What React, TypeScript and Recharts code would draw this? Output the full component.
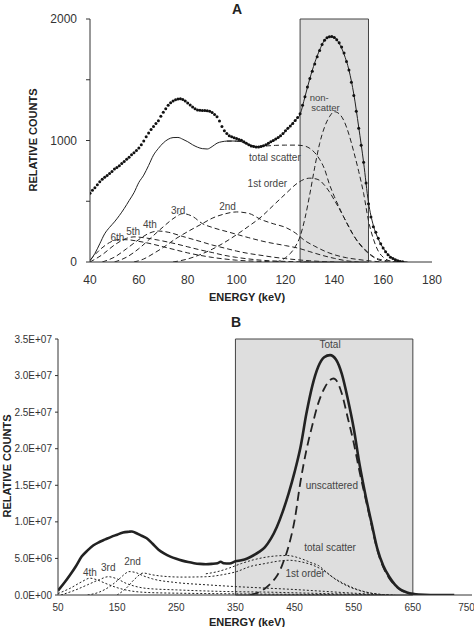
import React from 'react';
import { LineChart, Line, XAxis, YAxis, ReferenceArea, ReferenceDot } from 'recharts';

// ---------- panel A: energy (keV) vs relative counts ----------
const measuredEnergyA = [
  40, 41, 42, 43, 44, 45, 46, 47, 48, 49, 50, 51, 52, 53, 54, 55, 56, 57, 58, 59,
  60, 61, 62, 63, 64, 65, 66, 67, 68, 69, 70, 71, 72, 73, 74, 75, 76, 77, 78, 79,
  80, 81, 82, 83, 84, 85, 86, 87, 88, 89, 90, 91, 92, 93, 94, 95, 96, 97, 98, 99,
  100, 101, 102, 103, 104, 105, 106, 107, 108, 109, 110, 111, 112, 113, 114, 115, 116, 117, 118, 119,
  120, 121, 122, 123, 124, 125, 126, 127, 128, 129, 130, 131, 132, 133, 134, 135, 136, 137, 138, 139,
  140, 141, 142, 143, 144, 145, 146, 147, 148, 149, 150, 151, 152, 153, 154, 155, 156, 157, 158, 159,
  160, 161, 162, 163, 164, 165, 166, 167, 168,
];
const measuredCountsA = [
  565, 590, 612, 635, 660, 682, 698, 712, 728, 745, 765, 778, 792, 810, 828, 845, 862, 882, 900, 918,
  938, 965, 995, 1030, 1062, 1090, 1115, 1140, 1162, 1200, 1232, 1262, 1290, 1310, 1325, 1335, 1342, 1343, 1338, 1325,
  1308, 1292, 1275, 1262, 1252, 1248, 1247, 1246, 1244, 1240, 1230, 1215, 1195, 1160, 1115, 1080, 1058, 1040, 1030, 1022,
  1016, 1008, 1002, 990, 978, 965, 955, 950, 946, 946, 950, 957, 966, 977, 990, 1000, 1012, 1025, 1040, 1058,
  1080, 1100, 1120, 1140, 1165, 1190, 1220, 1290, 1360, 1440, 1510, 1570, 1630, 1690, 1740, 1790, 1825, 1845, 1854, 1855,
  1848, 1830, 1805, 1770, 1720, 1650, 1580, 1480, 1370, 1240, 1100, 960, 820, 650, 480, 370, 290, 245, 195, 150,
  115, 85, 60, 40, 28, 18, 10, 5, 2,
];

const totalEnergyA = [
  40, 42, 44, 46, 48, 50, 52, 54, 56, 58, 60, 62, 64, 66, 68, 70, 72, 74, 76, 78,
  80, 82, 84, 86, 88, 90, 92, 94, 96, 98, 100, 102, 104, 106, 108, 110, 112, 114, 116, 118,
  120, 122, 124, 126, 128, 130, 132, 134, 136, 138, 140, 142, 144, 146, 148, 150, 152, 154, 156, 158,
  160, 162, 164, 166, 168, 170,
];
const totalCountsA = [
  10, 70, 150, 232, 285, 330, 382, 440, 505, 570, 655, 715, 795, 880, 935, 980, 1010, 1024, 1025, 1010,
  990, 965, 945, 933, 930, 950, 978, 990, 995, 996, 995, 990, 975, 960, 950, 952, 962, 985, 1008, 1035,
  1075, 1120, 1165, 1215, 1360, 1510, 1640, 1745, 1825, 1855, 1850, 1800, 1710, 1580, 1380, 1110, 820, 490, 300, 190,
  115, 62, 30, 12, 3, 0,
];

const scatterEnergyA = [96, 100, 104, 108, 112, 116, 120, 124, 127, 130, 132, 134, 136, 138, 140, 142, 144, 146, 148, 150, 152, 154, 156, 158, 160, 163, 166];
const scatterCountsA = [995, 995, 975, 950, 955, 960, 962, 962, 958, 935, 900, 845, 765, 640, 540, 450, 365, 285, 215, 160, 115, 75, 45, 25, 16, 5, 0];

const nonScatterEnergyA = [116, 118, 120, 122, 124, 126, 128, 130, 132, 134, 136, 138, 140, 142, 144, 146, 148, 150, 152, 154, 156, 158, 160, 162, 164, 166];
const nonScatterCountsA = [0, 12, 35, 70, 125, 210, 360, 560, 780, 975, 1110, 1195, 1237, 1220, 1160, 1050, 905, 745, 565, 340, 190, 90, 40, 14, 4, 0];

const firstEnergyA = [74, 80, 85, 90, 95, 100, 105, 110, 115, 120, 125, 128, 130, 132, 134, 136, 138, 140, 142, 144, 146, 148, 150, 152, 154, 156, 158, 160, 162];
const firstCountsA = [0, 25, 60, 105, 160, 225, 295, 370, 465, 560, 650, 683, 690, 686, 672, 632, 578, 510, 440, 365, 290, 215, 155, 108, 70, 40, 18, 6, 0];

const secondEnergyA = [58, 62, 66, 70, 75, 80, 86, 90, 95, 100, 105, 110, 115, 120, 124, 128, 132, 136, 140, 145, 150, 155, 160];
const secondCountsA = [0, 25, 70, 120, 190, 250, 316, 360, 395, 412, 400, 350, 315, 285, 240, 175, 130, 90, 60, 35, 20, 8, 0];

const thirdEnergyA = [50, 55, 60, 65, 70, 75, 78, 82, 86, 90, 97, 105, 112, 120, 125, 130, 135, 140, 145, 150];
const thirdCountsA = [0, 40, 110, 200, 290, 370, 398, 375, 316, 285, 245, 200, 165, 135, 115, 85, 55, 30, 10, 0];

const fourthEnergyA = [45, 50, 55, 60, 64, 68, 72, 78, 85, 90, 95, 100, 105, 110, 115, 120, 125, 130, 140];
const fourthCountsA = [0, 40, 110, 185, 235, 255, 245, 210, 170, 140, 115, 90, 70, 55, 40, 28, 18, 10, 0];

const fifthEnergyA = [40, 45, 50, 55, 58, 62, 68, 75, 80, 85, 90, 95, 100, 105, 110, 120, 130];
const fifthCountsA = [0, 60, 140, 195, 207, 200, 180, 150, 125, 100, 78, 55, 38, 25, 15, 5, 0];

const sixthEnergyA = [40, 44, 48, 52, 56, 60, 65, 70, 75, 80, 85, 90, 95, 100, 110, 120];
const sixthCountsA = [15, 100, 160, 185, 182, 170, 150, 125, 100, 75, 55, 38, 25, 15, 5, 0];

const xTicksA = [40, 60, 80, 100, 120, 140, 160, 180];
const yTicksA = [0, 500, 1000, 1500, 2000];
const windowA = [126, 154];

// ---------- panel B ----------
const totalEnergyB = [
  50, 60, 70, 80, 90, 100, 110, 120, 130, 140, 150, 160, 170, 175, 180, 190, 200, 210, 220, 230,
  240, 250, 260, 270, 280, 290, 300, 310, 320, 325, 330, 340, 350, 360, 370, 380, 390, 400, 410, 420,
  430, 440, 450, 460, 470, 480, 490, 500, 510, 520, 530, 540, 550, 560, 570, 580, 590, 600, 610, 620,
  630, 640, 650, 660, 680, 720,
];
const totalCountsB = [
  0.6e6, 1.6e6, 2.7e6, 3.9e6, 5.25e6, 6.1e6, 6.8e6, 7.25e6, 7.6e6, 7.95e6, 8.25e6, 8.55e6, 8.65e6, 8.68e6, 8.55e6, 8.15e6, 7.75e6, 7.0e6, 6.2e6, 5.65e6,
  5.25e6, 4.95e6, 4.7e6, 4.5e6, 4.35e6, 4.25e6, 4.2e6, 4.25e6, 4.35e6, 4.55e6, 4.35e6, 4.3e6, 4.6e6, 4.75e6, 5.0e6, 5.4e6, 5.9e6, 6.55e6, 7.7e6, 9.3e6,
  11.4e6, 13.9e6, 16.8e6, 20.2e6, 24.8e6, 28.6e6, 31.2e6, 32.5e6, 32.8e6, 32.2e6, 30.2e6, 26.8e6, 22.8e6, 17.8e6, 13.6e6, 9.9e6, 6.3e6, 4.0e6, 2.5e6, 1.4e6,
  0.7e6, 0.35e6, 0.15e6, 0.05e6, 0, 0,
];

const unscatteredEnergyB = [375, 390, 400, 410, 420, 425, 430, 440, 450, 460, 470, 480, 490, 500, 510, 516, 520, 530, 540, 550, 560, 570, 580, 590, 600, 610, 620, 630, 640, 650, 660];
const unscatteredCountsB = [0, 0.4e6, 0.9e6, 1.6e6, 2.6e6, 3.3e6, 4.3e6, 6.7e6, 10.2e6, 15.5e6, 19.8e6, 23.2e6, 26.2e6, 28.2e6, 29.4e6, 29.6e6, 29.4e6, 27.5e6, 24.2e6, 20.8e6, 16.8e6, 13.2e6, 9.6e6, 6.1e6, 3.8e6, 2.3e6, 1.3e6, 0.65e6, 0.3e6, 0.1e6, 0];

const scatterEnergyB = [300, 320, 340, 360, 380, 400, 420, 437, 460, 480, 490, 500, 510, 520, 530, 540, 560, 570, 580, 600, 610];
const scatterCountsB = [2.9e6, 3.2e6, 3.7e6, 4.3e6, 4.8e6, 5.15e6, 5.35e6, 5.4e6, 5.0e6, 4.35e6, 4.05e6, 3.4e6, 2.7e6, 2.15e6, 1.7e6, 1.3e6, 0.65e6, 0.42e6, 0.25e6, 0.05e6, 0];

const firstEnergyB = [150, 165, 180, 194, 210, 230, 260, 300, 330, 352, 375, 400, 420, 440, 460, 480, 500, 520, 540, 560, 580, 600, 610];
const firstCountsB = [0, 0.9e6, 2.2e6, 3.0e6, 2.75e6, 2.55e6, 2.45e6, 2.5e6, 2.8e6, 3.2e6, 3.9e6, 4.3e6, 4.6e6, 4.75e6, 4.55e6, 4.1e6, 3.3e6, 2.1e6, 1.2e6, 0.6e6, 0.22e6, 0.05e6, 0];

const secondEnergyB = [100, 120, 140, 155, 165, 170, 180, 195, 210, 250, 300, 350, 400, 450, 500, 550, 600, 620];
const secondCountsB = [0, 0.4e6, 1.3e6, 2.3e6, 3.0e6, 3.2e6, 3.1e6, 2.6e6, 2.2e6, 1.7e6, 1.4e6, 1.15e6, 0.95e6, 0.75e6, 0.5e6, 0.25e6, 0.05e6, 0];

const thirdEnergyB = [55, 80, 100, 120, 135, 150, 165, 180, 200, 250, 300, 350, 400, 450, 500, 550, 600];
const thirdCountsB = [0, 0.7e6, 1.4e6, 2.1e6, 2.5e6, 2.2e6, 1.6e6, 1.2e6, 0.9e6, 0.7e6, 0.55e6, 0.45e6, 0.4e6, 0.3e6, 0.2e6, 0.1e6, 0];

const fourthEnergyB = [50, 70, 90, 104, 115, 130, 150, 170, 200, 250, 300, 400, 500, 600];
const fourthCountsB = [0.2e6, 0.9e6, 1.8e6, 2.3e6, 2.1e6, 1.6e6, 1.0e6, 0.6e6, 0.35e6, 0.25e6, 0.2e6, 0.12e6, 0.06e6, 0];

const xTicksB = [50, 150, 250, 350, 450, 550, 650, 750];
const yTicksB = [0, 5e6, 1e7, 1.5e7, 2e7, 2.5e7, 3e7, 3.5e7];
const windowB = [350, 650];

// ---------- helpers ----------
const pts = (xs: number[], ys: number[]) => xs.map((x, i) => ({ x, y: ys[i] }));

const sci = (v: number) => {
  if (v === 0) return '0.0E+00';
  const e = Math.floor(Math.log10(v) + 1e-9);
  const m = v / Math.pow(10, e);
  return `${m.toFixed(1)}E+${String(e).padStart(2, '0')}`;
};

const FONT = '"Liberation Sans", Arial, Helvetica, sans-serif';
const INK = '#222';
const NOTE = '#444';

const note = (x: number, y: number, text: string, size = 10) => (
  <ReferenceDot
    key={`${text}-${x}`}
    x={x}
    y={y}
    r={0}
    fill="none"
    stroke="none"
    label={{ value: text, position: 'center', fontSize: size, fill: NOTE, fontFamily: FONT }}
  />
);

const title: React.CSSProperties = {
  position: 'absolute',
  fontWeight: 'bold',
  color: '#222',
  fontFamily: FONT,
  textAlign: 'center',
};

const App: React.FC = () => {
  const dashA = '5 3';
  const dotB = '2 2';
  return (
    <div style={{ position: 'absolute', left: 0, top: 0, width: 474, height: 627, background: '#fff', overflow: 'hidden' }}>
      <div style={{ position: 'absolute', left: 0, top: 0 }}>
        <LineChart width={474} height={300} margin={{ top: 19, right: 42, left: 0, bottom: 0 }}>
          <ReferenceArea x1={windowA[0]} x2={windowA[1]} y1={0} y2={2000} fill="#dedede" fillOpacity={1} stroke="#444" strokeWidth={1} />
          <XAxis
            type="number"
            dataKey="x"
            domain={[40, 180]}
            ticks={xTicksA}
            allowDataOverflow
            height={38}
            tickLine={false}
            tickMargin={7}
            stroke="#333"
            tick={{ fontSize: 12, fill: '#333', fontFamily: FONT }}
          />
          <YAxis
            type="number"
            domain={[0, 2000]}
            ticks={yTicksA}
            allowDataOverflow
            width={90}
            tickSize={4}
            tickMargin={9}
            stroke="#333"
            tickFormatter={(v: number) => (v % 1000 === 0 ? String(v) : '')}
            tick={{ fontSize: 12, fill: '#333', fontFamily: FONT }}
          />
          <Line data={pts(sixthEnergyA, sixthCountsA)} dataKey="y" type="monotone" stroke={INK} strokeWidth={1} strokeDasharray={dashA} dot={false} isAnimationActive={false} />
          <Line data={pts(fifthEnergyA, fifthCountsA)} dataKey="y" type="monotone" stroke={INK} strokeWidth={1} strokeDasharray={dashA} dot={false} isAnimationActive={false} />
          <Line data={pts(fourthEnergyA, fourthCountsA)} dataKey="y" type="monotone" stroke={INK} strokeWidth={1} strokeDasharray={dashA} dot={false} isAnimationActive={false} />
          <Line data={pts(thirdEnergyA, thirdCountsA)} dataKey="y" type="monotone" stroke={INK} strokeWidth={1} strokeDasharray={dashA} dot={false} isAnimationActive={false} />
          <Line data={pts(secondEnergyA, secondCountsA)} dataKey="y" type="monotone" stroke={INK} strokeWidth={1} strokeDasharray={dashA} dot={false} isAnimationActive={false} />
          <Line data={pts(firstEnergyA, firstCountsA)} dataKey="y" type="monotone" stroke={INK} strokeWidth={1} strokeDasharray={dashA} dot={false} isAnimationActive={false} />
          <Line data={pts(scatterEnergyA, scatterCountsA)} dataKey="y" type="monotone" stroke={INK} strokeWidth={1} strokeDasharray={dashA} dot={false} isAnimationActive={false} />
          <Line data={pts(nonScatterEnergyA, nonScatterCountsA)} dataKey="y" type="monotone" stroke={INK} strokeWidth={1} strokeDasharray={dashA} dot={false} isAnimationActive={false} />
          <Line data={pts(totalEnergyA, totalCountsA)} dataKey="y" type="monotone" stroke={INK} strokeWidth={1} dot={false} isAnimationActive={false} />
          <Line
            data={pts(measuredEnergyA, measuredCountsA)}
            dataKey="y"
            stroke="none"
            dot={{ r: 1.5, fill: '#111', stroke: 'none' }}
            isAnimationActive={false}
          />
          {note(133.8, 1352, 'non-', 9.5)}
          {note(136.4, 1268, 'scatter', 9.5)}
          {note(115.7, 864, 'total scatter')}
          {note(112.6, 650, '1st order')}
          {note(96.3, 455, '2nd')}
          {note(76.1, 422, '3rd')}
          {note(64.5, 305, '4th')}
          {note(57.7, 250, '5th')}
          {note(51.2, 203, '6th')}
        </LineChart>
      </div>

      <div style={{ ...title, left: 0, top: 1, width: 474, fontSize: 14, lineHeight: '16px' }}>A</div>
      <div style={{ ...title, left: 187, top: 290, width: 120, fontSize: 11, lineHeight: '14px' }}>ENERGY (keV)</div>
      <div style={{ ...title, left: -37, top: 133, width: 140, fontSize: 11, lineHeight: '14px', transform: 'rotate(-90deg)' }}>RELATIVE COUNTS</div>

      <div style={{ ...title, left: 0, top: 314, width: 472, fontSize: 14, lineHeight: '16px' }}>B</div>

      <div style={{ position: 'absolute', left: 0, top: 320 }}>
        <LineChart width={474} height={307} margin={{ top: 19, right: 2, left: 0, bottom: 0 }}>
          <ReferenceArea x1={windowB[0]} x2={windowB[1]} y1={0} y2={3.5e7} fill="#dedede" fillOpacity={1} stroke="#444" strokeWidth={1} />
          <XAxis
            type="number"
            dataKey="x"
            domain={[50, 750]}
            ticks={xTicksB}
            allowDataOverflow
            height={32}
            tickLine={false}
            tickMargin={3}
            stroke="#333"
            tick={{ fontSize: 10, fill: '#333', fontFamily: FONT }}
          />
          <YAxis
            type="number"
            domain={[0, 3.5e7]}
            ticks={yTicksB}
            allowDataOverflow
            width={58}
            tickSize={3}
            tickMargin={3}
            stroke="#333"
            tickFormatter={sci}
            tick={{ fontSize: 10, fill: '#333', fontFamily: FONT }}
          />
          <Line data={pts(fourthEnergyB, fourthCountsB)} dataKey="y" type="monotone" stroke={INK} strokeWidth={1} strokeDasharray={dotB} dot={false} isAnimationActive={false} />
          <Line data={pts(thirdEnergyB, thirdCountsB)} dataKey="y" type="monotone" stroke={INK} strokeWidth={1} strokeDasharray={dotB} dot={false} isAnimationActive={false} />
          <Line data={pts(secondEnergyB, secondCountsB)} dataKey="y" type="monotone" stroke={INK} strokeWidth={1} strokeDasharray={dotB} dot={false} isAnimationActive={false} />
          <Line data={pts(firstEnergyB, firstCountsB)} dataKey="y" type="monotone" stroke={INK} strokeWidth={1} strokeDasharray={dotB} dot={false} isAnimationActive={false} />
          <Line data={pts(scatterEnergyB, scatterCountsB)} dataKey="y" type="monotone" stroke={INK} strokeWidth={1} strokeDasharray={dotB} dot={false} isAnimationActive={false} />
          <Line data={pts(unscatteredEnergyB, unscatteredCountsB)} dataKey="y" type="monotone" stroke={INK} strokeWidth={1.8} strokeDasharray="9 5" dot={false} isAnimationActive={false} />
          <Line data={pts(totalEnergyB, totalCountsB)} dataKey="y" type="monotone" stroke={INK} strokeWidth={2.6} dot={false} isAnimationActive={false} />
          {note(510, 34.2e6, 'Total')}
          {note(513, 15.0e6, 'unscattered')}
          {note(510, 6.5e6, 'total scatter')}
          {note(468, 2.97e6, '1st order')}
          {note(104, 3.05e6, '4th')}
          {note(135, 3.8e6, '3rd')}
          {note(176, 4.55e6, '2nd')}
        </LineChart>
      </div>

      <div style={{ ...title, left: 187, top: 615, width: 120, fontSize: 11, lineHeight: '14px' }}>ENERGY (keV)</div>
      <div style={{ ...title, left: -63, top: 459, width: 140, fontSize: 11, lineHeight: '14px', transform: 'rotate(-90deg)' }}>RELATIVE COUNTS</div>
    </div>
  );
};

export default App;
